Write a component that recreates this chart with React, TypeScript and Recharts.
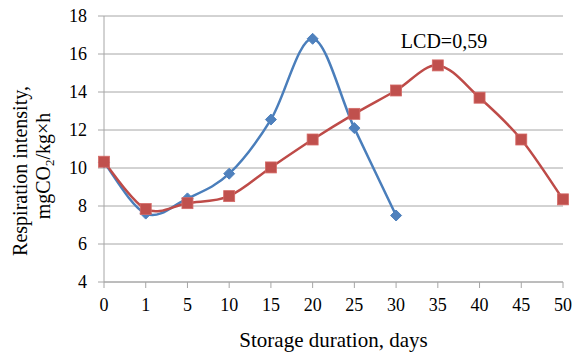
import { CartesianGrid, Label, Line, LineChart, XAxis, YAxis } from 'recharts';

const days = ['0', '1', '5', '10', '15', '20', '25', '30', '35', '40', '45', '50'];
const blueValues = [10.3, 7.6, 8.4, 9.7, 12.55, 16.8, 12.1, 7.5];
const redValues = [10.33, 7.84, 8.15, 8.52, 10.03, 11.5, 12.85, 14.08, 15.4, 13.7, 11.5, 8.35];
const yTicks = [4, 6, 8, 10, 12, 14, 16, 18];

const FONT = '"Liberation Serif", "Times New Roman", serif';
const GRID = '#a6a6a6';
const BLUE = '#4a7ebb';
const RED = '#be4b48';

const data = days.map((d, i) => ({
  day: d,
  blue: i < blueValues.length ? blueValues[i] : null,
  red: redValues[i],
}));

// excel-like smoothed line (catmull-rom style bezier)
const smoothCurve = (context: any) => {
  let pts: number[][] = [];
  return {
    areaStart() {},
    areaEnd() {},
    lineStart() {
      pts = [];
    },
    point(x: number, y: number) {
      pts.push([+x, +y]);
    },
    lineEnd() {
      if (!pts.length) return;
      context.moveTo(pts[0][0], pts[0][1]);
      for (let i = 0; i < pts.length - 1; i++) {
        const p0 = pts[i - 1] || pts[i];
        const p1 = pts[i];
        const p2 = pts[i + 1];
        const p3 = pts[i + 2] || p2;
        context.bezierCurveTo(
          p1[0] + (p2[0] - p0[0]) / 6,
          p1[1] + (p2[1] - p0[1]) / 6,
          p2[0] - (p3[0] - p1[0]) / 6,
          p2[1] - (p3[1] - p1[1]) / 6,
          p2[0],
          p2[1],
        );
      }
    },
  };
};

const diamondDot = (props: any) => {
  const { cx, cy, index } = props;
  if (cx == null || cy == null || props.value == null) return <g key={'b' + index} />;
  const r = 5.5;
  return (
    <path
      key={'b' + index}
      d={`M${cx},${cy - r}L${cx + r},${cy}L${cx},${cy + r}L${cx - r},${cy}Z`}
      fill="#4f81bd"
      stroke="#4f81bd"
    />
  );
};

const squareDot = (props: any) => {
  const { cx, cy, index } = props;
  if (cx == null || cy == null) return <g key={'r' + index} />;
  const s = 11;
  return <rect key={'r' + index} x={cx - s / 2} y={cy - s / 2} width={s} height={s} fill="#c0504d" stroke="#d46a67" strokeWidth={0.8} />;
};

const XTick = ({ x, y, payload }: any) => (
  <text x={x} y={y + 13} textAnchor="middle" fontFamily={FONT} fontSize={18} fill="#000">
    {payload.value}
  </text>
);

const YTick = ({ x, y, payload }: any) => (
  <text x={x} y={y + 6} textAnchor="end" fontFamily={FONT} fontSize={18} fill="#000">
    {payload.value}
  </text>
);

const Titles = () => (
  <g fontFamily={FONT} fill="#000">
    <text transform="translate(27,171) rotate(-90)" textAnchor="middle" fontSize={20}>
      Respiration intensity,
    </text>
    <text transform="translate(50,166) rotate(-90)" textAnchor="middle" fontSize={20}>
      mgCO<tspan fontSize={13} dy={4}>2</tspan>
      <tspan dy={-4}>/kg×h</tspan>
    </text>
    <text x={333.5} y={347} textAnchor="middle" fontSize={21}>
      Storage duration, days
    </text>
    <text x={444} y={48} textAnchor="middle" fontSize={20}>
      LCD=0,59
    </text>
  </g>
);

const App = () => {
  return (
    <div style={{ position: 'absolute', left: 0, top: 0, background: '#fff' }}>
      <LineChart width={574} height={353} data={data} margin={{ top: 16, right: 11, left: 0, bottom: 0 }}>
        <CartesianGrid vertical={false} stroke={GRID} strokeWidth={1} />
        <XAxis dataKey="day" height={71} tickSize={6} tickMargin={10} stroke={GRID} tick={<XTick />} interval={0}>
          <Label content={() => <Titles />} />
        </XAxis>
        <YAxis
          width={104}
          domain={[4, 18]}
          ticks={yTicks}
          tickSize={6}
          tickMargin={11}
          stroke={GRID}
          tick={<YTick />}
          allowDataOverflow
        />
        <Line
          dataKey="blue"
          type={smoothCurve as any}
          stroke={BLUE}
          strokeWidth={2.5}
          dot={diamondDot}
          activeDot={false}
          isAnimationActive={false}
        />
        <Line
          dataKey="red"
          type={smoothCurve as any}
          stroke={RED}
          strokeWidth={2.5}
          dot={squareDot}
          activeDot={false}
          isAnimationActive={false}
        />
      </LineChart>
    </div>
  );
};

export default App;
